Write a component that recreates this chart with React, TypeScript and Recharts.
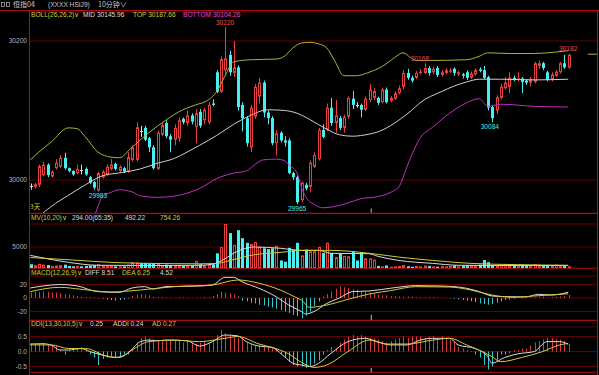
import React from 'react';
import { ComposedChart, Bar, Line, XAxis, YAxis, CartesianGrid, ReferenceDot, ReferenceLine } from 'recharts';

const RED = '#e8403c';
const CYAN = '#48eef0';
const WHITE = '#dcdcdc';
const YEL = '#cdcd3c';
const MAG = '#c030c0';
const GRID = '#640000';
const FONT = '"Liberation Sans", Arial, sans-serif';
const CJK = '"Noto Sans CJK SC", "Liberation Sans", sans-serif';
const FS = 6.6;

// candles: [open, close, high, low]
const candles: number[][] = [
  [29991, 29990, 29995, 29986], [29990, 29994, 29996, 29988], [29993, 30020, 30022, 29990], [30007, 30022, 30026, 30005],
  [30022, 30007, 30024, 30004], [30005, 30012, 30014, 30003], [30017, 30025, 30030, 30015], [30019, 30032, 30036, 30017],
  [30032, 30017, 30039, 30015], [30017, 30013, 30018, 30011], [30013, 30008, 30014, 30006], [30010, 30016, 30022, 30008],
  [30015, 30014, 30022, 30008], [30016, 30008, 30018, 30006], [30004, 29996, 30006, 29994], [29997, 29989, 29999, 29986],
  [29985, 30010, 30012, 29983], [30004, 30012, 30014, 30002], [30008, 30019, 30022, 30006], [30016, 30022, 30030, 30014],
  [30023, 30016, 30025, 30014], [30013, 30019, 30021, 30011], [30017, 30012, 30019, 30010], [30012, 30033, 30040, 30010],
  [30029, 30047, 30050, 30027], [30029, 30076, 30083, 30027], [30071, 30070, 30078, 30062], [30075, 30058, 30078, 30056],
  [30060, 30047, 30062, 30040], [30047, 30017, 30050, 30015], [30016, 30068, 30071, 30014], [30065, 30079, 30083, 30063],
  [30082, 30063, 30086, 30060], [30063, 30058, 30066, 30040], [30058, 30075, 30080, 30050], [30060, 30086, 30090, 30055],
  [30088, 30083, 30090, 30080], [30082, 30093, 30100, 30078], [30093, 30084, 30096, 30080], [30076, 30096, 30102, 30053],
  [30098, 30078, 30102, 30075], [30086, 30101, 30104, 30080], [30083, 30108, 30112, 30080], [30110, 30108, 30116, 30106],
  [30155, 30127, 30158, 30125], [30127, 30174, 30178, 30125], [30158, 30175, 30220, 30150], [30180, 30155, 30186, 30150],
  [30154, 30162, 30200, 30148], [30162, 30105, 30165, 30100], [30108, 30089, 30112, 30070], [30089, 30053, 30092, 30048],
  [30047, 30104, 30108, 30040], [30091, 30134, 30138, 30088], [30120, 30140, 30147, 30110], [30140, 30097, 30143, 30090],
  [30097, 30089, 30100, 30080], [30089, 30053, 30092, 30050], [30053, 30067, 30072, 30035], [30068, 30057, 30070, 30054],
  [30057, 30054, 30063, 30048], [30057, 30010, 30060, 30008], [30010, 30004, 30012, 30000], [30004, 29968, 30006, 29965],
  [29971, 29996, 29998, 29968], [29993, 29988, 29996, 29985], [29990, 30025, 30028, 29982], [30019, 30036, 30040, 30017],
  [30030, 30072, 30075, 30028], [30072, 30062, 30080, 30060], [30072, 30104, 30110, 30070], [30104, 30082, 30118, 30078],
  [30082, 30093, 30115, 30068], [30089, 30075, 30092, 30072], [30075, 30091, 30094, 30068], [30091, 30118, 30120, 30088],
  [30117, 30108, 30128, 30102], [30108, 30107, 30112, 30104], [30108, 30101, 30110, 30090], [30101, 30117, 30120, 30099],
  [30115, 30130, 30138, 30112], [30118, 30128, 30132, 30115], [30118, 30111, 30120, 30108], [30112, 30130, 30133, 30110],
  [30130, 30112, 30133, 30110], [30114, 30118, 30121, 30112], [30117, 30125, 30128, 30115], [30125, 30132, 30136, 30123],
  [30134, 30154, 30158, 30130], [30154, 30147, 30160, 30144], [30147, 30143, 30150, 30140], [30147, 30154, 30157, 30145],
  [30154, 30156, 30160, 30152], [30154, 30161, 30168, 30152], [30161, 30154, 30164, 30150], [30155, 30160, 30163, 30152],
  [30161, 30151, 30164, 30148], [30151, 30155, 30158, 30149], [30154, 30158, 30161, 30152], [30156, 30158, 30161, 30154],
  [30160, 30154, 30162, 30150], [30152, 30155, 30157, 30150], [30152, 30150, 30154, 30146], [30155, 30147, 30158, 30144],
  [30147, 30153, 30156, 30145], [30152, 30158, 30161, 30150], [30159, 30157, 30162, 30155], [30158, 30147, 30164, 30145],
  [30148, 30104, 30150, 30100], [30105, 30089, 30108, 30083], [30100, 30119, 30122, 30095], [30118, 30134, 30138, 30116],
  [30132, 30140, 30148, 30130], [30134, 30147, 30155, 30125], [30147, 30144, 30150, 30142], [30144, 30146, 30155, 30142],
  [30146, 30141, 30148, 30125], [30143, 30140, 30145, 30137], [30140, 30145, 30148, 30135], [30141, 30168, 30170, 30139],
  [30164, 30168, 30172, 30160], [30168, 30161, 30170, 30158], [30155, 30144, 30157, 30142], [30144, 30152, 30155, 30142],
  [30150, 30156, 30158, 30148], [30155, 30168, 30170, 30153], [30168, 30162, 30180, 30160], [30162, 30180, 30182, 30160],
];

const volumes: number[] = [
  900, 700, 1000, 800, 700, 500, 600, 700, 800, 500, 400, 500, 400, 500, 600, 700, 900, 600, 500, 500,
  400, 400, 400, 800, 1400, 1300, 1200, 1200, 1100, 1200, 1000, 700, 800, 600, 600, 700, 500, 600, 600, 1700,
  900, 700, 800, 900,
  3500, 5000, 10600, 8300, 5500, 9000, 7100, 6000, 5700, 6200, 5000, 4700, 4500, 4700, 5300, 1800, 1500, 4800, 4300, 6000,
  3000, 4400, 4000, 4000, 5000, 3600, 6000, 3600, 2600, 3400, 2900, 2800, 4000, 1800, 3800, 2300, 2300, 2000,
  500, 400, 600, 300, 400, 500, 700, 400, 300, 500, 400, 600, 500, 400, 300, 500, 400, 500, 600, 400, 500, 600, 700, 500, 800,
  1900, 1400, 700, 600, 800, 900, 700, 600, 500, 800, 600, 700, 900, 600, 500, 700, 600, 800, 500, 600, 400,
];

const macdHist: number[] = [
  8, 9, 9, 10, 9, 8, 8, 7, 6, 5, 4,
  3, 2, 1, 1, 0.5, -0.5,
  -1, -2, -3, -4, -3, -2, -1,
  3, 5, 6, 5, 4,
  2, 1, 1, 1, 0.5,
  0.5, 1, 1, 1, 0.5, 0.5, 0.5, 1, 1,
  3, 6, 9, 8, 7, 5, 3,
  -4, -5, -7, -8, -10, -11, -13, -14, -16, -18, -20, -22, -25, -27, -30,
  -26, -20, -12, -5,
  2, 6, 10, 14, 17, 16, 15, 13, 12, 10, 9, 8, 6,
  5, 4, 4, 3, 3,
  2, 2, 2, 2, 1, 1, 1, 1, 1,
  0.5, 0.5, 0, -0.5, -1,
  -2, -3, -4, -5, -6, -8, -9, -10, -9, -7, -5, -3, -2, -1,
  0.5, -0.5, 0.5, 1, 1, 2, 2, 1, 1, 2, 2, 3, 4.52,
];

const ddiHist: number[] = [
  0.25, 0.25, 0.25, 0.28, 0.25, 0.22, 0.2,
  0.05, -0.1, 0.05,
  0.1, 0.12, 0.15, 0.1,
  -0.1, -0.2, -0.45, -0.25, -0.2, -0.15, -0.2, -0.15, -0.1, -0.1, 0.05,
  0.3, 0.45, 0.5, 0.45, 0.4, 0.35, 0.35, 0.35, 0.35,
  0.35, 0.35, 0.3, 0.35, 0.3, 0.25, 0.3, 0.35, 0.3,
  0.4, 0.55, 0.72, 0.6, 0.55, 0.5, 0.45, 0.4,
  0.3, 0.25, 0.2, 0.2, 0.2, 0.15, 0.15, 0.1, -0.1,
  -0.2, -0.35, -0.45, -0.5, -0.5, -0.55, -0.5, -0.4, -0.3,
  -0.1, 0.05, 0.15, 0.1,
  0.3, 0.4, 0.5, 0.55, 0.5, 0.55, 0.5, 0.45, 0.45, 0.4, 0.35, 0.3,
  0.35, 0.4, 0.45, 0.5, 0.45, 0.5, 0.5, 0.5,
  0.45, 0.5, 0.5, 0.45, 0.5, 0.45, 0.4, 0.35,
  0.15, 0.1, 0.05, 0.02,
  -0.1, -0.2, -0.45, -0.6, -0.5, -0.3, -0.1,
  -0.1, -0.05, 0.05, 0.05, 0.1, 0.1,
  0.2, 0.3, 0.35, 0.4, 0.45, 0.45, 0.4, 0.4, 0.35, 0.25,
];

// line key points: [candle index, value]
const bollTop: number[][] = [
  [0, 30029], [2, 30040], [5, 30055], [9, 30075], [11, 30074], [13, 30062], [16, 30040], [19, 30033], [21, 30032],
  [24, 30047], [28, 30068], [32, 30086], [36, 30101], [39, 30108], [42, 30115], [44, 30127], [46, 30150], [48, 30170],
  [52, 30173], [58, 30174], [60, 30178], [62, 30190], [64, 30197], [66, 30198], [68, 30196], [70, 30190], [72, 30170],
  [74, 30150], [77, 30150], [80, 30155], [83, 30163], [86, 30176], [88, 30183], [90, 30175], [91, 30172], [94, 30172],
  [103, 30173], [106, 30178], [108, 30183], [113, 30182], [119, 30182], [124, 30184], [127, 30186],
];
const bollMid: number[][] = [
  [1, 29935], [3, 29952], [5, 29962], [9, 29978], [13, 29993], [17, 30006], [22, 30011], [26, 30016], [30, 30024],
  [34, 30031], [37, 30040], [40, 30050], [44, 30064], [48, 30080], [52, 30093], [56, 30101], [60, 30100], [63, 30096],
  [66, 30087], [70, 30073], [73, 30065], [76, 30063], [80, 30066], [82, 30069], [85, 30078], [87, 30086], [90, 30100],
  [92, 30111], [97, 30127], [100, 30135], [103, 30141], [106, 30145], [111, 30145], [119, 30144], [127, 30145],
];
const bollBot: number[][] = [
  [14, 29925], [15, 29945], [16, 29962], [17, 29976], [19, 29982], [21, 29986], [24, 29983], [26, 29977], [30, 29975],
  [33, 29976], [37, 29981], [40, 29988], [44, 30002], [48, 30010], [51, 30013], [53, 30022], [55, 30029], [58, 30030],
  [60, 30028], [61, 30022], [63, 30010], [64, 29990], [65, 29976], [67, 29965], [69, 29960], [72, 29962], [75, 29967],
  [78, 29973], [82, 29976], [85, 29982], [87, 29990], [89, 30020], [90, 30035], [92, 30060], [95, 30076], [99, 30096],
  [103, 30111], [106, 30117], [108, 30106], [111, 30109], [119, 30106], [127, 30105],
];
const mv10: number[][] = [
  [0, 3000], [4, 2200], [9, 1350], [16, 650], [30, 600], [40, 650], [43, 900], [46, 2200], [48, 3500], [53, 5000],
  [59, 4700], [64, 4200], [68, 4200], [71, 3500], [80, 3400], [82, 2800], [87, 1800], [95, 1100], [101, 650],
  [110, 600], [127, 600],
];
const mv20: number[][] = [
  [0, 2500], [10, 1900], [20, 1300], [28, 1100], [40, 1000], [44, 1100], [48, 2000], [52, 3000], [60, 3800],
  [64, 4200], [71, 4200], [80, 3500], [87, 2600], [95, 1800], [104, 1100], [115, 800], [127, 650],
];
const macdDiff: number[][] = [
  [0, 14.8], [3, 17.8], [7, 20], [11, 18], [16, 9.4], [21, 8.4], [24, 14.8], [27, 16.8], [29, 13.3], [32, 16.8],
  [40, 17.8], [43, 19.3], [46, 30.6], [48, 30.6], [50, 24], [54, 14.4], [58, 2], [61, -10.4], [64, -20], [65, -23.7],
  [67, -20], [70, -8], [73, 0], [76, 9.4], [80, 10.4], [86, 15.3], [91, 18.3], [97, 17.8], [103, 14.4], [106, 9.4],
  [109, 3], [112, 2], [117, 1.6], [120, 5.5], [123, 4.4], [127, 8.51],
];
const macdDea: number[][] = [
  [0, 9.4], [7, 15.8], [12, 12.9], [19, 8.9], [26, 11.9], [34, 16.8], [43, 19.3], [49, 26.7], [54, 21.8], [59, 11.9],
  [63, 0], [64, -3], [66, -13.8], [70, -10.4], [75, -2], [80, 5.9], [85, 10.9], [91, 16.8], [99, 16.3], [104, 11.9],
  [109, 4.4], [114, 1], [119, 3], [127, 6.25],
];
const ddiAddi: number[][] = [
  [0, 0.25], [3, 0.26], [5, 0.21], [7, 0.05], [9, 0.05], [12, 0.1], [14, 0], [17, -0.12], [20, -0.2], [23, -0.06],
  [26, 0.33], [28, 0.38], [30, 0.36], [32, 0.38], [37, 0.36], [40, 0.18], [43, 0.33], [46, 0.55], [49, 0.52],
  [51, 0.33], [54, 0.18], [57, 0.14], [60, -0.17], [62, -0.39], [64, -0.45], [66, -0.5], [68, -0.4], [71, -0.06],
  [75, 0.33], [79, 0.44], [82, 0.33], [85, 0.22], [89, 0.22], [92, 0.38], [95, 0.44], [99, 0.44], [101, 0.22],
  [105, 0.1], [108, -0.17], [109, -0.39], [112, -0.2], [115, -0.08], [119, 0], [122, 0.33], [125, 0.33], [127, 0.24],
];
const ddiAd: number[][] = [
  [0, 0.22], [5, 0.22], [9, 0.1], [13, 0.1], [18, -0.15], [21, -0.2], [24, 0.05], [28, 0.33], [34, 0.38], [40, 0.33],
  [46, 0.44], [49, 0.5], [54, 0.25], [57, 0.14], [61, -0.08], [64, -0.36], [67, -0.53], [70, -0.45], [75, 0],
  [80, 0.38], [84, 0.25], [89, 0.25], [95, 0.38], [99, 0.44], [103, 0.22], [109, -0.17], [111, -0.34], [116, -0.2],
  [121, 0], [125, 0.22], [127, 0.27],
];

const priceTicks = [30000, 30200];
const volTicks = [5000];
const macdTicks = [-20, 0, 20];
const ddiTicks = [-0.5, 0, 0.5];

const N = candles.length;
const rows: any[] = [];
for (let i = 0; i < N; i++) {
  const [o, c, h, l] = candles[i];
  rows.push({ i, o, c, h, l, range: [l, h], v: volumes[i] ?? 0, macd: macdHist[i] ?? 0, ddi: ddiHist[i] ?? 0 });
}
const put = (key: string, pts: number[][]) => pts.forEach(([i, v]) => { if (rows[i]) rows[i][key] = v; });
put('top', bollTop); put('mid', bollMid); put('bot', bollBot);
put('mv10', mv10); put('mv20', mv20);
put('diff', macdDiff); put('dea', macdDea);
put('addi', ddiAddi); put('ad', ddiAd);

const XDOM: [number, number] = [-0.3, 133.8];
const W = 599;

const norm = (y: number, height: number) => ({ top: Math.min(y, y + height), hgt: Math.abs(height) });

const Candle = (props: any) => {
  const { x, y, width, height, payload } = props;
  if (x == null || y == null || !payload) return null;
  const { top, hgt } = norm(y, height);
  const { o, c, h, l } = payload;
  const ppu = h > l ? hgt / (h - l) : 0;
  const yo = top + (h - o) * ppu;
  const yc = top + (h - c) * ppu;
  const bTop = Math.min(yo, yc);
  const bBot = Math.max(yo, yc);
  const cx = Math.round(x + width / 2);
  const doji = Math.abs(c - o) <= 1;
  const up = c > o;
  const col = doji ? WHITE : up ? RED : CYAN;
  return (
    <g>
      <line x1={cx + 0.5} x2={cx + 0.5} y1={top} y2={top + hgt} stroke={col} strokeWidth={1} />
      {doji ? (
        <line x1={cx - 1} x2={cx + 2} y1={Math.round(bTop) + 0.5} y2={Math.round(bTop) + 0.5} stroke={col} strokeWidth={1} />
      ) : up ? (
        <rect x={cx - 0.5} y={bTop + 0.5} width={2} height={Math.max(bBot - bTop - 1, 0.5)} fill="#000" stroke={col} strokeWidth={1} />
      ) : (
        <rect x={cx - 1} y={bTop} width={3} height={Math.max(bBot - bTop, 1)} fill={col} />
      )}
    </g>
  );
};

const VolBar = (props: any) => {
  const { x, y, width, height, payload } = props;
  if (x == null || y == null || !payload) return null;
  const { top, hgt } = norm(y, height);
  const cx = Math.round(x + width / 2);
  if (payload.c >= payload.o) {
    return <rect x={cx - 0.5} y={top + 0.5} width={2} height={Math.max(hgt - 1, 0.5)} fill="#000" stroke={RED} strokeWidth={1} />;
  }
  return <rect x={cx - 1} y={top} width={3} height={hgt} fill={CYAN} />;
};

const makeHist = (key: string) => (props: any) => {
  const { x, y, width, height, payload } = props;
  if (x == null || y == null || !payload) return null;
  const { top, hgt } = norm(y, height);
  const cx = Math.round(x + width / 2) + 0.5;
  const col = payload[key] >= 0 ? '#d23c3c' : '#2ec8cc';
  return <line x1={cx} x2={cx} y1={top} y2={top + hgt} stroke={col} strokeWidth={1} />;
};

const tickStyle = { fill: '#b4b4b4', fontSize: FS, fontFamily: FONT };

const yAxisProps = {
  width: 29,
  allowDataOverflow: true,
  axisLine: false,
  tickLine: false,
  tickSize: 0,
  tickMargin: 2,
  tick: tickStyle,
  interval: 0 as const,
};

const Sep = ({ y1, y2 }: { y1: number; y2: number }) => (
  <ReferenceLine segment={[{ x: 80.5, y: y1 }, { x: 80.5, y: y2 }]} stroke="#bbbbbb" strokeWidth={1} ifOverflow="visible" />
);

const lab = (value: string, color: string, position: 'top' | 'bottom') => ({
  value, position, fill: color, fontSize: FS, fontFamily: FONT, offset: 2,
});

export default function App() {
  return (
    <div style={{ position: 'absolute', left: 0, top: 0, width: W, height: 375, background: '#000', overflow: 'hidden' }}>
      {/* main price panel */}
      <div style={{ position: 'absolute', left: 0, top: 0 }}>
        <ComposedChart width={W} height={215} data={rows} margin={{ top: 12, right: 2, bottom: 2, left: 0 }}>
          <CartesianGrid vertical={false} stroke={GRID} />
          <XAxis type="number" dataKey="i" domain={XDOM} hide allowDataOverflow />
          <YAxis {...yAxisProps} domain={[29952.5, 30241.7]} ticks={priceTicks} />
          <Line type="monotone" dataKey="top" stroke="#b0b038" strokeWidth={1} dot={false} connectNulls isAnimationActive={false} />
          <Line type="monotone" dataKey="mid" stroke="#cfcfcf" strokeWidth={1} dot={false} connectNulls isAnimationActive={false} />
          <Line type="monotone" dataKey="bot" stroke={MAG} strokeWidth={1} dot={false} connectNulls isAnimationActive={false} />
          <Bar dataKey="range" barSize={3} shape={<Candle />} isAnimationActive={false} />
          <ReferenceLine segment={[{ x: 131.6, y: 30181 }, { x: 133.8, y: 30181 }]} stroke="#b0b038" ifOverflow="visible" />
          <Sep y1={29953} y2={29959} />
          <ReferenceDot x={46} y={30220} r={0} stroke="none" label={lab('30220', '#e85050', 'top')} />
          <ReferenceDot x={16} y={29983} r={0} stroke="none" label={lab('29983', CYAN, 'bottom')} />
          <ReferenceDot x={63} y={29965} r={0} stroke="none" label={lab('29965', CYAN, 'bottom')} />
          <ReferenceDot x={92} y={30168} r={0} stroke="none" label={lab('30168', '#e85050', 'top')} />
          <ReferenceDot x={127} y={30182} r={0} stroke="none" label={lab('30182', '#e85050', 'top')} />
          <ReferenceDot x={108.5} y={30083} r={0} stroke="none" label={lab('30084', CYAN, 'bottom')} />
        </ComposedChart>
      </div>

      {/* volume panel */}
      <div style={{ position: 'absolute', left: 0, top: 213 }}>
        <ComposedChart width={W} height={57} data={rows} margin={{ top: 11, right: 2, bottom: 2, left: 0 }}>
          <CartesianGrid vertical={false} stroke={GRID} />
          <XAxis type="number" dataKey="i" domain={XDOM} hide allowDataOverflow />
          <YAxis {...yAxisProps} domain={[0, 10476]} ticks={volTicks} />
          <Bar dataKey="v" barSize={3} shape={<VolBar />} isAnimationActive={false} />
          <Line type="monotone" dataKey="mv10" stroke={WHITE} strokeWidth={1} dot={false} connectNulls isAnimationActive={false} />
          <Line type="monotone" dataKey="mv20" stroke={YEL} strokeWidth={1} dot={false} connectNulls isAnimationActive={false} />
        </ComposedChart>
      </div>

      {/* MACD panel */}
      <div style={{ position: 'absolute', left: 0, top: 268 }}>
        <ComposedChart width={W} height={54} data={rows} margin={{ top: 8, right: 2, bottom: 2, left: 0 }}>
          <CartesianGrid vertical={false} stroke={GRID} />
          <XAxis type="number" dataKey="i" domain={XDOM} hide allowDataOverflow />
          <YAxis {...yAxisProps} domain={[-32.6, 32.6]} ticks={macdTicks} />
          <Bar dataKey="macd" barSize={1} shape={makeHist('macd')} isAnimationActive={false} />
          <Line type="monotone" dataKey="diff" stroke={WHITE} strokeWidth={1} dot={false} connectNulls isAnimationActive={false} />
          <Line type="monotone" dataKey="dea" stroke={YEL} strokeWidth={1} dot={false} connectNulls isAnimationActive={false} />
          <Sep y1={-32.6} y2={-25} />
        </ComposedChart>
      </div>

      {/* DDI panel */}
      <div style={{ position: 'absolute', left: 0, top: 320 }}>
        <ComposedChart width={W} height={55} data={rows} margin={{ top: 7, right: 2, bottom: 3, left: 0 }}>
          <CartesianGrid vertical={false} stroke={GRID} />
          <XAxis type="number" dataKey="i" domain={XDOM} hide allowDataOverflow />
          <YAxis {...yAxisProps} domain={[-0.683, 0.817]} ticks={ddiTicks} tickFormatter={(v: number) => v.toFixed(1)} />
          <Bar dataKey="ddi" barSize={1} shape={makeHist('ddi')} isAnimationActive={false} />
          <Line type="monotone" dataKey="addi" stroke={WHITE} strokeWidth={1} dot={false} connectNulls isAnimationActive={false} />
          <Line type="monotone" dataKey="ad" stroke={YEL} strokeWidth={1} dot={false} connectNulls isAnimationActive={false} />
          <Sep y1={-0.683} y2={-0.55} />
        </ComposedChart>
      </div>

      {/* frame and legends */}
      <svg width={W} height={375} style={{ position: 'absolute', left: 0, top: 0, pointerEvents: 'none' }}>
        <line x1={0} x2={W} y1={10.5} y2={10.5} stroke="#a01010" />
        <line x1={29.5} x2={29.5} y1={10} y2={375} stroke="#b01010" />
        <line x1={597.5} x2={597.5} y1={10} y2={375} stroke="#b01010" />
        <line x1={29} x2={598} y1={213.5} y2={213.5} stroke="#a01010" />
        <line x1={29} x2={598} y1={268.5} y2={268.5} stroke="#8a0c0c" />
        <line x1={29} x2={598} y1={320.5} y2={320.5} stroke="#a01010" />
        <line x1={29} x2={598} y1={372.5} y2={372.5} stroke="#8a0c0c" />

        <rect x={1.5} y={2.5} width={3} height={4} fill="none" stroke="#aaa" strokeWidth={0.8} />
        <rect x={6.5} y={2.5} width={3} height={4} fill="none" stroke="#aaa" strokeWidth={0.8} />
        <g fontSize={7} fill="#c8c8c8" dominantBaseline="middle">
          <text x={13} y={5} fontFamily={CJK}>恒指04</text>
          <text x={48} y={5} fontFamily={FONT} fontSize={FS}>(XXXX HSIJ9)</text>
          <text x={98} y={5} fontFamily={CJK}>10分钟∨</text>
        </g>

        <g fontSize={FS} fontFamily={FONT} dominantBaseline="middle">
          <text x={31} y={15} fill={YEL}>BOLL(26,26,2)∨</text>
          <text x={83} y={15} fill={WHITE}>MID 30145.96</text>
          <text x={133} y={15} fill={YEL}>TOP 30187.66</text>
          <text x={183} y={15} fill="#e040e0">BOTTOM 30104.26</text>

          <text x={30} y={207.5} fill={YEL} fontFamily={CJK}>3天</text>

          <text x={31} y={218.5} fill={YEL}>MV(10,20)∨</text>
          <text x={72} y={218.5} fill={WHITE}>294.00(65:35)</text>
          <text x={125} y={218.5} fill={WHITE}>492.22</text>
          <text x={160} y={218.5} fill={YEL}>754.26</text>

          <text x={31} y={273} fill={YEL}>MACD(12,26,9)∨</text>
          <text x={85} y={273} fill={WHITE}>DIFF 8.51</text>
          <text x={122} y={273} fill={YEL}>DEA 6.25</text>
          <text x={160} y={273} fill={WHITE}>4.52</text>

          <text x={31} y={324.5} fill={YEL}>DDI(13,30,10,5)∨</text>
          <text x={90} y={324.5} fill={WHITE}>0.25</text>
          <text x={113} y={324.5} fill={WHITE}>ADDI 0.24</text>
          <text x={152} y={324.5} fill={YEL}>AD 0.27</text>
        </g>
      </svg>
    </div>
  );
}
